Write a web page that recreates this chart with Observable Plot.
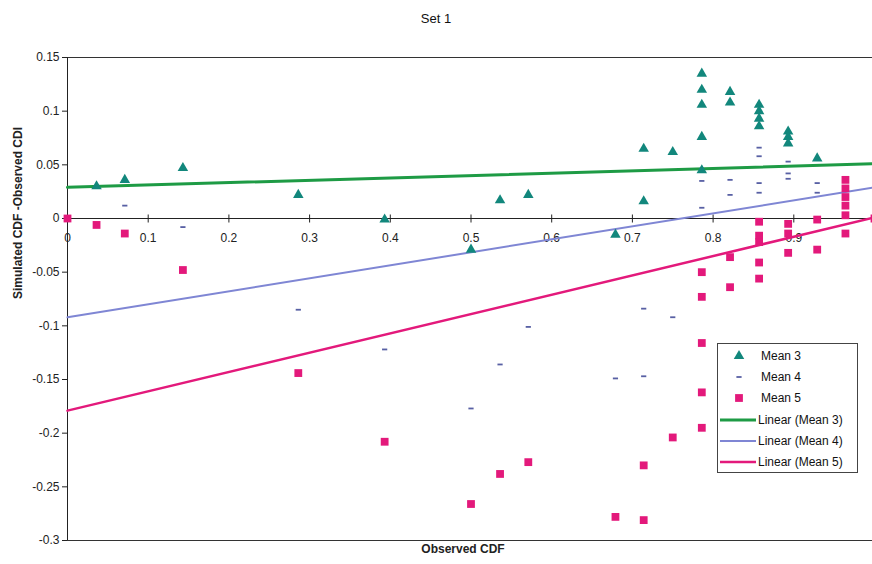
<!DOCTYPE html>
<html>
<head>
<meta charset="utf-8">
<script src="https://cdn.jsdelivr.net/npm/d3@7"></script>
<script src="https://cdn.jsdelivr.net/npm/@observablehq/plot@0.6"></script>
<style>
  html, body { margin: 0; padding: 0; background: #fff; }
  #wrap { position: relative; width: 872px; height: 564px; overflow: hidden; font-family: "Liberation Sans", Arial, sans-serif; }
  #title { position: absolute; left: 0; top: 11px; width: 872px; text-align: center; font-size: 13px; color: #111; }
  #legend { position: absolute; left: 717px; top: 343px; width: 139px; height: 128px; border: 1px solid #444; background: #fff; }
</style>
</head>
<body>
<div id="wrap">
  <div id="chart"></div>
  <div id="title">Set 1</div>
  <div id="legend"></div>
</div>
<script>
// ---- data ----
const seriesNames = ["Mean 3", "Mean 4", "Mean 5"];
const trendNames = ["Linear (Mean 3)", "Linear (Mean 4)", "Linear (Mean 5)"];

const mean3X = [0.036,0.071,0.143,0.286,0.393,0.5,0.536,0.571,0.679,0.714,0.714,0.75,0.786,0.786,0.786,0.786,0.786,0.821,0.821,0.857,0.857,0.857,0.857,0.893,0.893,0.893,0.929];
const mean3Y = [0.030,0.036,0.047,0.022,-0.001,-0.029,0.017,0.022,-0.015,0.065,0.016,0.062,0.135,0.120,0.106,0.076,0.045,0.118,0.108,0.106,0.100,0.093,0.086,0.081,0.076,0.070,0.056];

const mean4X = [0.071,0.143,0.286,0.393,0.5,0.536,0.571,0.679,0.714,0.714,0.75,0.786,0.786,0.821,0.821,0.857,0.857,0.857,0.857,0.893,0.893,0.893,0.929,0.929];
const mean4Y = [0.012,-0.008,-0.085,-0.122,-0.177,-0.136,-0.101,-0.149,-0.084,-0.147,-0.092,0.035,0.010,0.036,0.022,0.066,0.058,0.033,0.024,0.053,0.042,0.037,0.033,0.024];

const mean5X = [0,0.036,0.071,0.143,0.286,0.393,0.5,0.536,0.571,0.679,0.714,0.714,0.75,0.786,0.786,0.786,0.786,0.786,0.821,0.821,0.857,0.857,0.857,0.857,0.857,0.893,0.893,0.893,0.929,0.929,0.964,0.964,0.964,0.964,0.964,0.964,1];
const mean5Y = [0,-0.006,-0.014,-0.048,-0.144,-0.208,-0.266,-0.238,-0.227,-0.278,-0.281,-0.230,-0.204,-0.050,-0.073,-0.116,-0.162,-0.195,-0.036,-0.064,-0.003,-0.016,-0.022,-0.041,-0.056,-0.005,-0.014,-0.032,-0.001,-0.029,0.036,0.028,0.020,0.012,0.003,-0.014,0.000];

// trend line end points (x = 0 and x = 1)
const trendX = [0, 1];
const trend3Y = [0.029, 0.051];
const trend4Y = [-0.092, 0.029];
const trend5Y = [-0.179, 0.001];

const xTicks = [0,0.1,0.2,0.3,0.4,0.5,0.6,0.7,0.8,0.9];
const yTicks = [-0.3,-0.25,-0.2,-0.15,-0.1,-0.05,0,0.05,0.1,0.15];

// ---- build tables ----
const zip = (xs, ys) => xs.map((x, i) => ({x, y: ys[i]}));
const d3pts = zip(mean3X, mean3Y);
const d4pts = zip(mean4X, mean4Y);
const d5pts = zip(mean5X, mean5Y);
const t3 = zip(trendX, trend3Y), t4 = zip(trendX, trend4Y), t5 = zip(trendX, trend5Y);

const C = { teal: "#12877c", green: "#1e9b45", blue: "#7f86d4", pink: "#e3197b", dash: "#5860a4" };

const dashSymbol = { draw(c) { c.moveTo(-2.6,-0.9); c.lineTo(2.6,-0.9); c.lineTo(2.6,0.9); c.lineTo(-2.6,0.9); c.closePath(); } };
const vTickSymbol = { draw(c) { c.moveTo(0,-4); c.lineTo(0,4); } };
const fmt = d => d === 0 ? "0" : String(d);

const chart = Plot.plot({
  width: 872,
  height: 564,
  marginLeft: 67,
  marginRight: -2,
  marginTop: 57,
  marginBottom: 24,
  style: { fontFamily: "Liberation Sans, Arial, sans-serif", fontSize: "12px", color: "#222", background: "transparent", overflow: "hidden" },
  x: { domain: [0, 1], axis: null },
  y: { domain: [-0.3, 0.15], axis: null },
  marks: [
    Plot.ruleY([0.15, -0.3], { stroke: "#333", strokeWidth: 1 }),
    Plot.ruleX([0], { stroke: "#222", strokeWidth: 1 }),
    Plot.ruleY([0], { stroke: "#222", strokeWidth: 1 }),
    Plot.axisY(yTicks, { anchor: "left", tickSize: 5, tickPadding: 3, tickFormat: fmt, label: null, fontSize: 12 }),
    Plot.dot(xTicks, { x: d => d, y: () => 0, symbol: vTickSymbol, stroke: "#222", strokeWidth: 1, fill: "none" }),
    Plot.text(xTicks, { x: d => d, y: () => 0, text: fmt, dy: 20, fontSize: 12, fill: "#222" }),
    Plot.line(t3, { x: "x", y: "y", stroke: C.green, strokeWidth: 3 }),
    Plot.line(t4, { x: "x", y: "y", stroke: C.blue, strokeWidth: 2 }),
    Plot.line(t5, { x: "x", y: "y", stroke: C.pink, strokeWidth: 2.5 }),
    Plot.dot(d4pts, { x: "x", y: "y", symbol: dashSymbol, fill: C.dash, stroke: "none" }),
    Plot.dot(d5pts, { x: "x", y: "y", symbol: "square", r: 4.4, fill: C.pink, stroke: "none" }),
    Plot.dot(d3pts, { x: "x", y: "y", symbol: "triangle", r: 3.9, fill: C.teal, stroke: "none" }),
    Plot.text(["Simulated CDF -Observed CDI"], { frameAnchor: "left", text: d => d, rotate: -90, dx: -49, fontWeight: "bold", fontSize: 12, fill: "#222" }),
    Plot.text(["Observed CDF"], { frameAnchor: "bottom", text: d => d, dy: 12, dx: -8, fontWeight: "bold", fontSize: 12, fill: "#222" })
  ]
});
document.getElementById("chart").appendChild(chart);

// ---- legend ----
const lg = d3.select("#legend").append("svg").attr("width", 139).attr("height", 128)
  .style("font-family", "Liberation Sans, Arial, sans-serif").style("font-size", "12px");
const rowsY = [12, 33, 54, 76, 97, 118];
const labels = seriesNames.concat(trendNames);
lg.append("path").attr("d", d3.symbol(d3.symbolTriangle, Math.PI * 3.9 * 3.9)()).attr("transform", `translate(21,${rowsY[0]})`).attr("fill", C.teal);
lg.append("path").attr("d", d3.symbol(dashSymbol)()).attr("transform", `translate(21,${rowsY[1]})`).attr("fill", C.dash);
lg.append("path").attr("d", d3.symbol(d3.symbolSquare, Math.PI * 4.4 * 4.4)()).attr("transform", `translate(21,${rowsY[2]})`).attr("fill", C.pink);
[[C.green, 3], [C.blue, 2], [C.pink, 2.5]].forEach(([c, w], i) => {
  lg.append("line").attr("x1", 2).attr("x2", 38).attr("y1", rowsY[3 + i]).attr("y2", rowsY[3 + i]).attr("stroke", c).attr("stroke-width", w);
});
labels.forEach((t, i) => {
  lg.append("text").attr("x", i < 3 ? 43 : 40).attr("y", rowsY[i]).attr("dy", "0.35em").attr("fill", "#111").text(t);
});
</script>
</body>
</html>
